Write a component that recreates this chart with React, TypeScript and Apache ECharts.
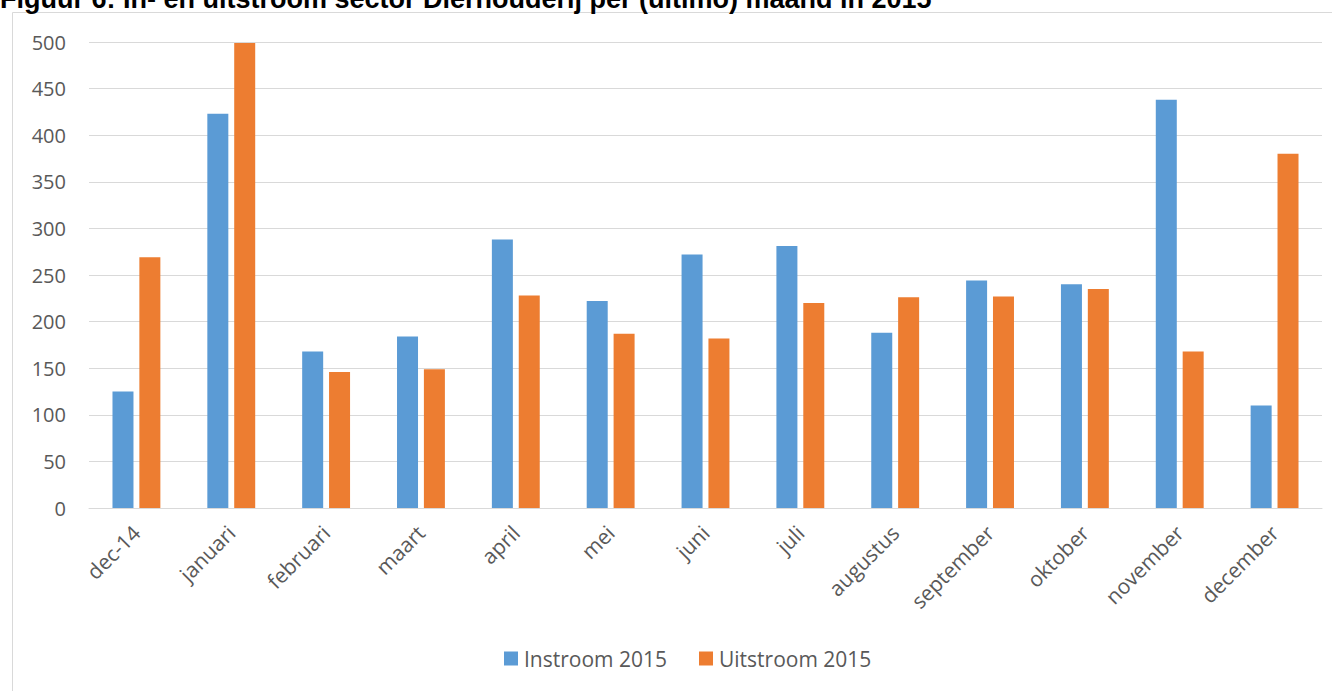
import React, { useEffect, useRef } from "react";
import * as echarts from "echarts";

const categories = ["dec-14", "januari", "februari", "maart", "april", "mei", "juni", "juli", "augustus", "september", "oktober", "november", "december"];
const instroom = [125, 423, 168, 184, 288, 222, 272, 281, 188, 244, 240, 438, 110];
const uitstroom = [269, 499, 146, 149, 228, 187, 182, 220, 226, 227, 235, 168, 380];
const seriesNames = ["Instroom 2015", "Uitstroom 2015"];
const titleText = "Figuur 6: In- en uitstroom sector Dierhouderij per (ultimo) maand in 2015";

export default function App() {
  const ref = useRef<HTMLDivElement>(null);
  useEffect(() => {
    if (!ref.current) return;
    const chart = echarts.init(ref.current, null, { renderer: "svg" });
    const font = "'Open Sans', sans-serif";
    chart.setOption({
      animation: false,
      backgroundColor: "#ffffff",
      graphic: [
        {
          type: "rect",
          shape: { x: 12.5, y: 12.5, width: 1330, height: 720 },
          style: { fill: "none", stroke: "#d9d9d9", lineWidth: 1 },
          silent: true,
        },
        {
          type: "text",
          left: 0,
          top: -15,
          style: { text: titleText, font: "bold 27px 'Liberation Sans', Arial, sans-serif", fill: "#000000" },
        },
      ],
      grid: { left: 89, right: 10, top: 42, bottom: 183 },
      legend: {
        data: seriesNames,
        left: 499,
        top: 643,
        icon: "rect",
        itemWidth: 14,
        itemHeight: 14,
        itemGap: 32,
        textStyle: { color: "#595959", fontSize: 21, fontFamily: font, padding: [0, 0, 0, 1] },
      },
      xAxis: {
        type: "category",
        data: categories,
        axisLine: { lineStyle: { color: "#d9d9d9", width: 1 } },
        axisTick: { show: false },
        axisLabel: { rotate: 45, color: "#595959", fontSize: 21, fontFamily: font, margin: 21, interval: 0 },
      },
      yAxis: {
        type: "value",
        min: 0,
        max: 500,
        interval: 50,
        axisLine: { show: false },
        axisTick: { show: false },
        splitLine: { lineStyle: { color: "#d9d9d9", width: 1 } },
        axisLabel: { color: "#595959", fontSize: 20, fontFamily: font, margin: 23 },
      },
      series: [
        { name: seriesNames[0], type: "bar", data: instroom, barWidth: 21, barGap: "28%", itemStyle: { color: "#5b9bd5" } },
        { name: seriesNames[1], type: "bar", data: uitstroom, barWidth: 21, barGap: "28%", itemStyle: { color: "#ed7d31" } },
      ],
    });
    return () => chart.dispose();
  }, []);
  return <div ref={ref} style={{ position: "fixed", left: 0, top: 0, width: 1332, height: 691 }} />;
}
